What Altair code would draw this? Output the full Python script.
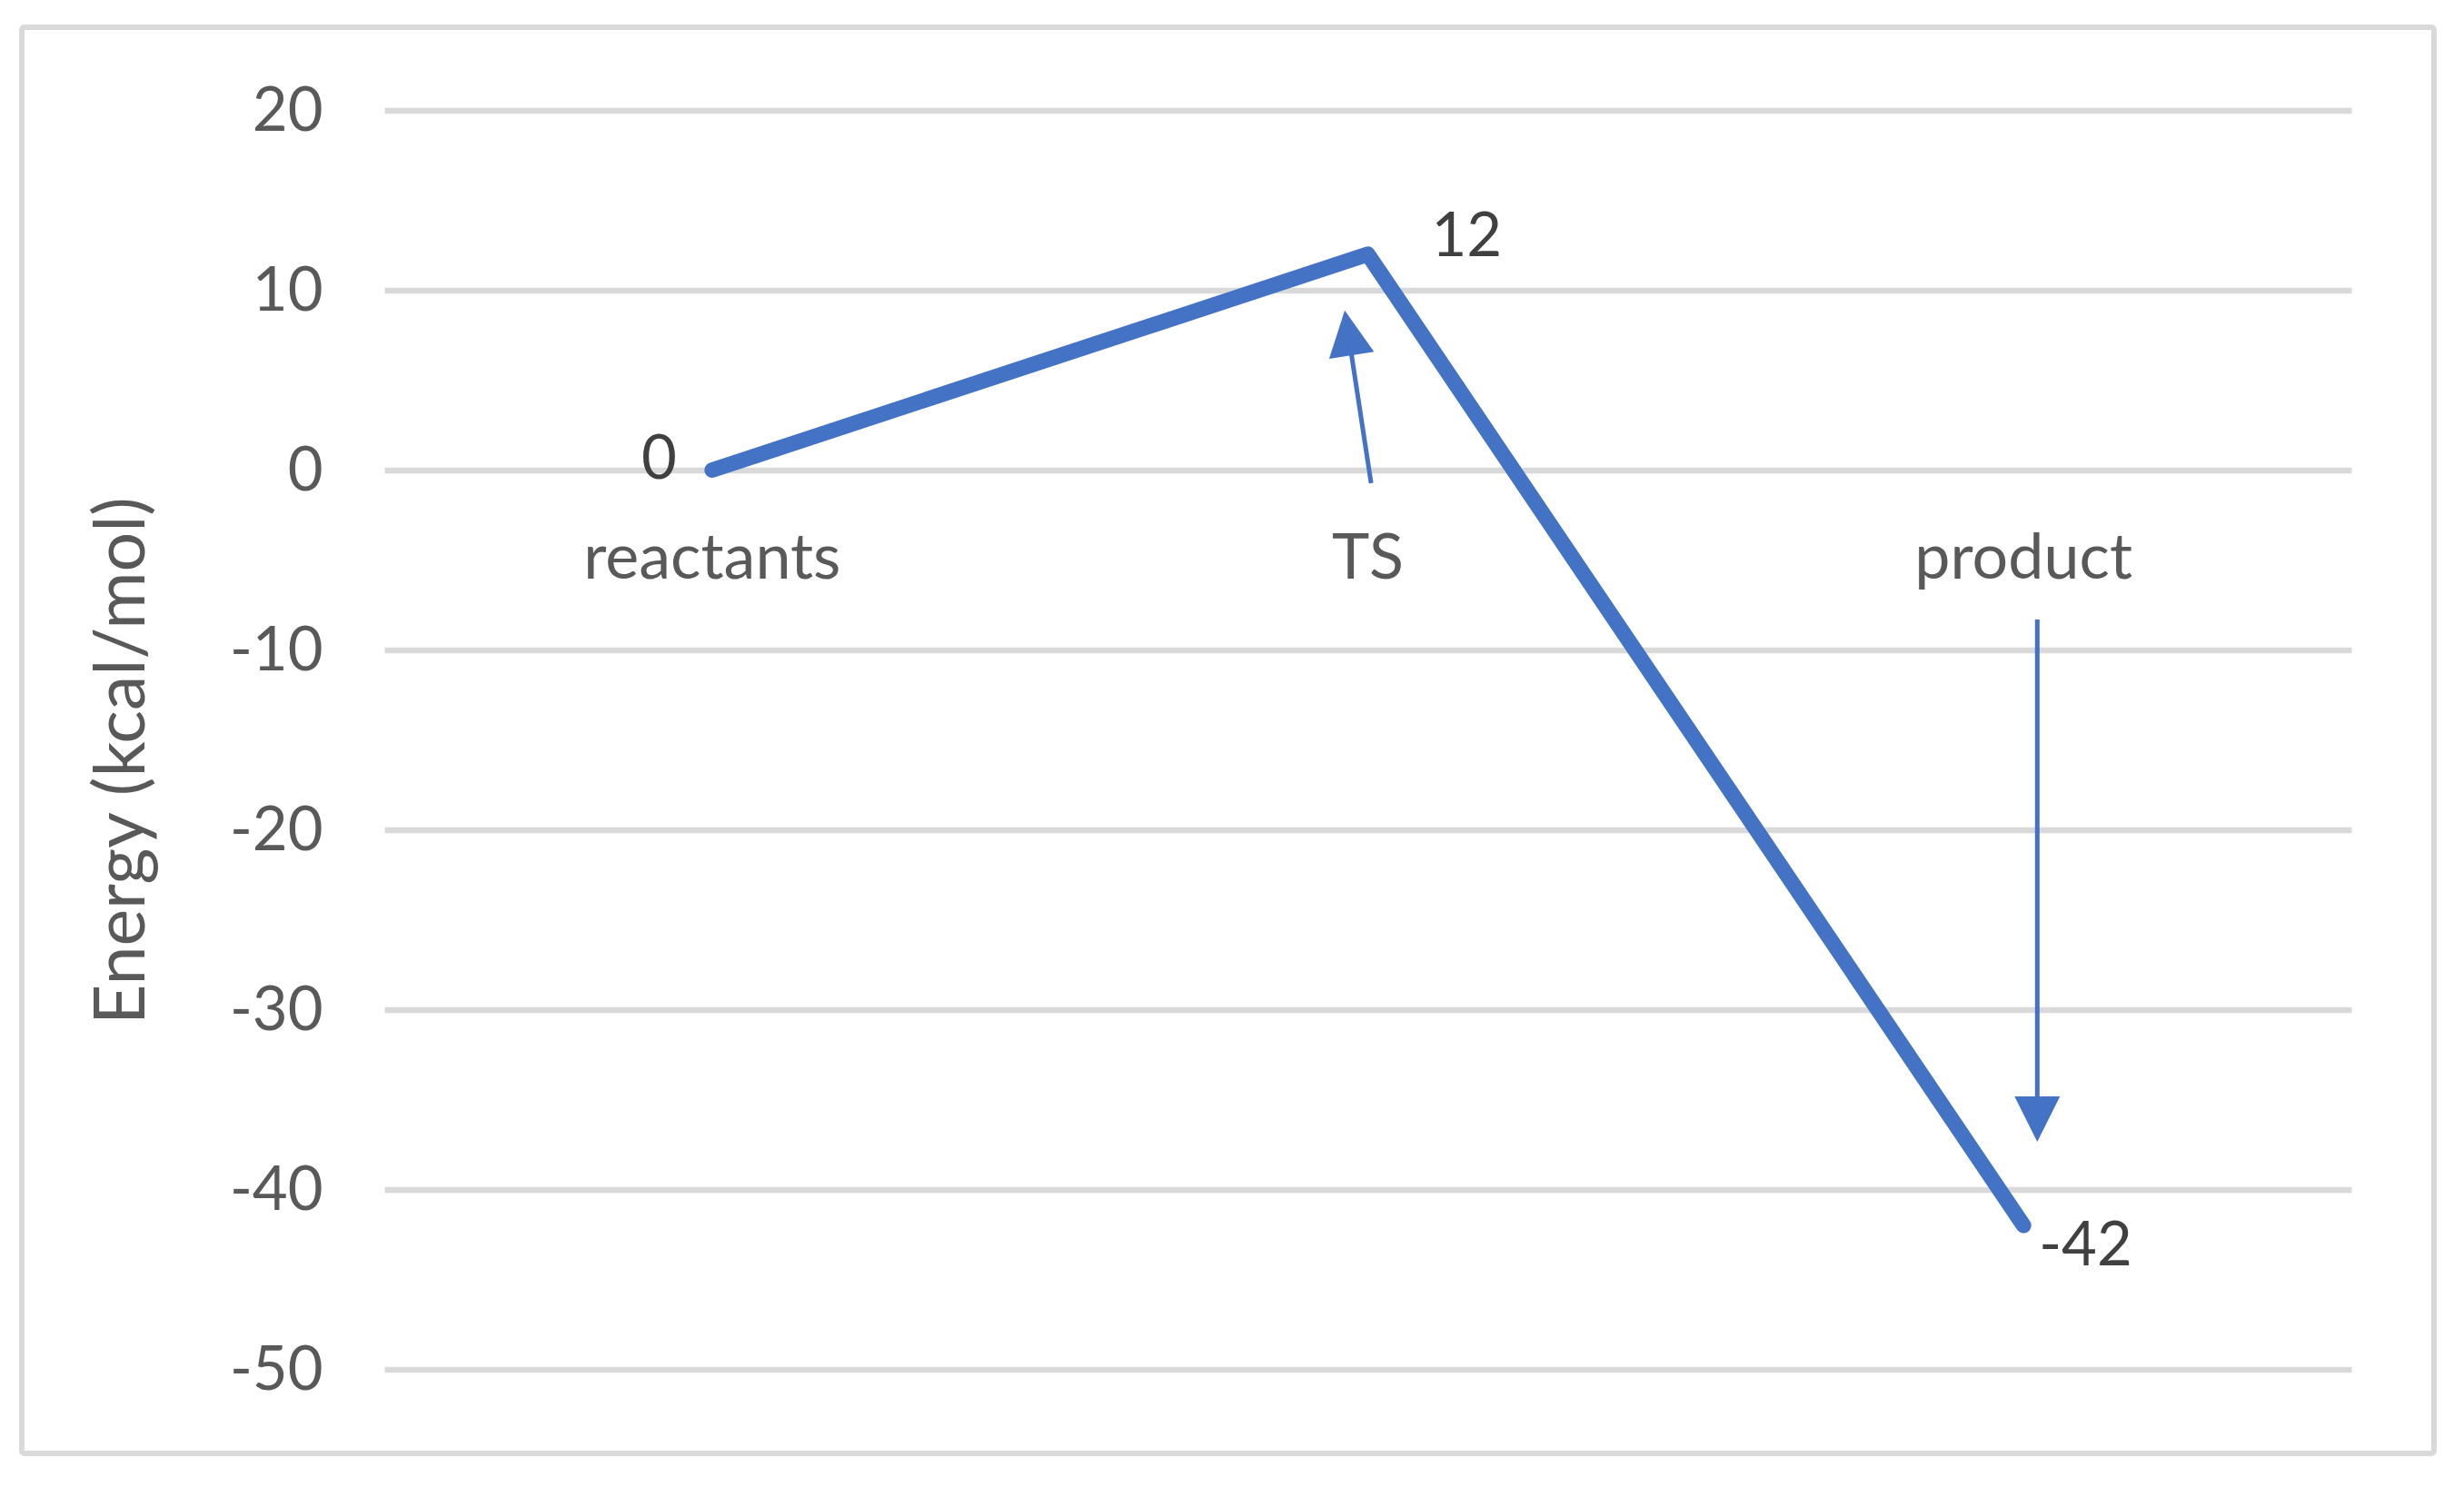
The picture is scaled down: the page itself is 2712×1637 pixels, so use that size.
import altair as alt
import pandas as pd

# ---- data ----
categories = ["reactants", "TS", "product"]
energies = [0, 12, -42]
value_labels = ["0", "12", "-42"]
y_ticks = [20, 10, 0, -10, -20, -30, -40, -50]

# annotation arrows (data units: x = category index, y = energy)
arrow_x0 = [1.005, 2.021]
arrow_y0 = [-0.73, -8.31]
arrow_x1 = [0.970, 2.021]
arrow_y1 = [7.63, -36.09]
arrow_angle = [351.3, 180]

BLUE = "#4472C4"
GRID = "#D9D9D9"
AXIS_TXT = "#595959"
LABEL_TXT = "#404040"
FONT = "Lato"

df = pd.DataFrame({"idx": list(range(len(categories))), "category": categories,
                   "energy": energies, "label": value_labels})
arrows = pd.DataFrame({"x0": arrow_x0, "y0": arrow_y0, "x1": arrow_x1,
                       "y1": arrow_y1, "angle": arrow_angle})

xs = alt.Scale(domain=[-0.5, 2.5], nice=False, zero=False)
ys = alt.Scale(domain=[-50, 20], nice=False, zero=False)

YT = "Energy (kcal/mol)"
yaxis = alt.Axis(values=y_ticks, grid=True, gridColor=GRID, gridWidth=6.5,
                 domain=False, ticks=False, tickSize=0,
                 labelExpr="toString(datum.value)",
                 labelFont=FONT, labelFontSize=67, labelColor=AXIS_TXT,
                 labelPadding=68, labelBaseline="alphabetic", labelOffset=21.5,
                 title=YT, titleFont=FONT, titleFontSize=77,
                 titleFontWeight="normal", titleColor=AXIS_TXT, titleAngle=270,
                 titleX=-265, titleY=715.5, titleAlign="center",
                 titleBaseline="alphabetic")

base = alt.Chart(df)

frame = alt.Chart(pd.DataFrame({"a": [0]})).mark_rect(
    fillOpacity=0, stroke=GRID, strokeWidth=6, cornerRadius=3
).encode(x=alt.value(-399), x2=alt.value(2256), y=alt.value(-91.5), y2=alt.value(1478.5))

line = base.mark_line(color=BLUE, strokeWidth=17, strokeCap="round", strokeJoin="round").encode(
    x=alt.X("idx:Q", scale=xs, axis=None),
    y=alt.Y("energy:Q", scale=ys, axis=yaxis, title=YT),
)

cat_labels = base.mark_text(font=FONT, fontSize=70, color=AXIS_TXT, align="center",
                            baseline="alphabetic", dy=119.5).encode(
    x=alt.X("idx:Q", scale=xs, axis=None),
    y=alt.YDatum(0, scale=ys, axis=yaxis, title=YT),
    text="category:N",
)

def value_label(i, align, dx, dy):
    return base.transform_filter(alt.datum.idx == i).mark_text(
        font=FONT, fontSize=67, color=LABEL_TXT, align=align,
        baseline="alphabetic", dx=dx, dy=dy
    ).encode(
        x=alt.X("idx:Q", scale=xs, axis=None),
        y=alt.Y("energy:Q", scale=ys, axis=yaxis, title=YT),
        text="label:N",
    )

lab0 = value_label(0, "right", -39, 9.5)
lab1 = value_label(1, "left", 70, 2)
lab2 = value_label(2, "left", 17, 44)

shafts = alt.Chart(arrows).mark_rule(color=BLUE, strokeWidth=5).encode(
    x=alt.X("x0:Q", scale=xs, axis=None),
    y=alt.Y("y0:Q", scale=ys, axis=yaxis, title=YT),
    x2="x1:Q",
    y2="y1:Q",
)

heads = alt.Chart(arrows).mark_point(
    shape="M0,-1L1,1L-1,1Z", filled=True, size=2500, color=BLUE, opacity=1, strokeWidth=0
).encode(
    x=alt.X("x1:Q", scale=xs, axis=None),
    y=alt.Y("y1:Q", scale=ys, axis=yaxis, title=YT),
    angle=alt.Angle("angle:Q", scale=None),
)

chart = alt.layer(line, frame, shafts, heads, cat_labels, lab0, lab1, lab2).properties(
    width=2165, height=1386,
    padding={"left": 415, "top": 113.5, "right": 110, "bottom": 110},
    autosize=alt.AutoSizeParams(type="none"),
).configure(
    font=FONT, background="white",
    view=alt.ViewConfig(stroke="transparent", strokeWidth=0),
)

chart.save("out.html", embed_options={"renderer": "svg", "actions": False})
